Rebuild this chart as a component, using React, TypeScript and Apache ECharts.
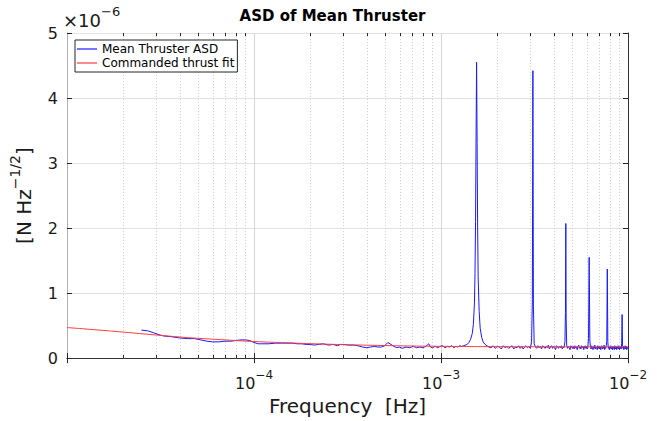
import React, { useEffect, useRef } from 'react';
import * as echarts from 'echarts';

const chartTitle = 'ASD of Mean Thruster';
const seriesNames = ['Mean Thruster ASD', 'Commanded thrust fit'];
const xAxisName = 'Frequency  [Hz]';
const yAxisBase = '[N Hz';
const yAxisExp = '−1/2';
const yScaleExp = '−6';
const xMin = 1e-5;
const xMax = 1e-2;
const yMin = 0;
const yMax = 5;
const yStep = 1;

// [frequency in mHz, ASD in 1e-6 N Hz^-1/2]
const asdPoints: [number, number][] = [
  [0.025, 0.43], [0.027, 0.42], [0.029, 0.39], [0.031, 0.36], [0.033, 0.34], [0.036, 0.33],
  [0.040, 0.31], [0.044, 0.30], [0.048, 0.30], [0.052, 0.28], [0.056, 0.26], [0.060, 0.25],
  [0.065, 0.25], [0.070, 0.26], [0.075, 0.26], [0.080, 0.27], [0.085, 0.28], [0.090, 0.28],
  [0.095, 0.27], [0.100, 0.24], [0.105, 0.22], [0.110, 0.22], [0.120, 0.22], [0.130, 0.23],
  [0.140, 0.23], [0.150, 0.23], [0.160, 0.23], [0.170, 0.22], [0.180, 0.22], [0.190, 0.21],
  [0.200, 0.21], [0.210, 0.20], [0.220, 0.21], [0.235, 0.22], [0.250, 0.20], [0.265, 0.21],
  [0.280, 0.19], [0.290, 0.21], [0.300, 0.21], [0.320, 0.20], [0.340, 0.20], [0.360, 0.19],
  [0.380, 0.17], [0.400, 0.16], [0.420, 0.17], [0.440, 0.18], [0.460, 0.17], [0.480, 0.17],
  [0.500, 0.19], [0.520, 0.24], [0.540, 0.21], [0.560, 0.18], [0.580, 0.16], [0.600, 0.17],
  [0.620, 0.15], [0.650, 0.17], [0.680, 0.16], [0.710, 0.18], [0.740, 0.16], [0.770, 0.17],
  [0.800, 0.16], [0.830, 0.18], [0.860, 0.22], [0.880, 0.17], [0.900, 0.16], [0.930, 0.18],
  [0.960, 0.16], [0.990, 0.18], [1.02, 0.19], [1.05, 0.16], [1.08, 0.18], [1.11, 0.17],
  [1.14, 0.19], [1.17, 0.16], [1.20, 0.18], [1.23, 0.17], [1.26, 0.19], [1.29, 0.18],
  [1.32, 0.19], [1.35, 0.20], [1.38, 0.21], [1.41, 0.24], [1.44, 0.29], [1.47, 0.38],
  [1.49, 0.52], [1.51, 0.85], [1.52, 1.3], [1.53, 2.1], [1.54, 3.4], [1.55, 4.55],
  [1.56, 3.3], [1.57, 2.0], [1.58, 1.25], [1.60, 0.72], [1.62, 0.46], [1.65, 0.32],
  [1.68, 0.25], [1.72, 0.21], [1.76, 0.19], [1.80, 0.17],
  [1.85, 0.16], [1.9, 0.19], [1.95, 0.15], [2.0, 0.18], [2.05, 0.17], [2.1, 0.14],
  [2.15, 0.19], [2.2, 0.16], [2.25, 0.18], [2.3, 0.15], [2.35, 0.17], [2.4, 0.19],
  [2.45, 0.14], [2.5, 0.17], [2.55, 0.16], [2.6, 0.19], [2.65, 0.15], [2.7, 0.18],
  [2.75, 0.14], [2.8, 0.17], [2.85, 0.19], [2.9, 0.16], [2.95, 0.18], [3.0, 0.15],
  [3.05, 0.24], [3.08, 0.9], [3.1, 4.42], [3.12, 0.8], [3.15, 0.22], [3.2, 0.17],
  [3.25, 0.15], [3.3, 0.19], [3.35, 0.16], [3.4, 0.18], [3.45, 0.14], [3.5, 0.19],
  [3.55, 0.17], [3.6, 0.15], [3.65, 0.18], [3.7, 0.16], [3.75, 0.2], [3.8, 0.14],
  [3.85, 0.17], [3.9, 0.19], [3.95, 0.15], [4.0, 0.18], [4.05, 0.16], [4.1, 0.13],
  [4.15, 0.19], [4.2, 0.17], [4.25, 0.15], [4.3, 0.18], [4.35, 0.16], [4.4, 0.19],
  [4.45, 0.14], [4.5, 0.17], [4.55, 0.16], [4.6, 0.25], [4.63, 0.7], [4.65, 2.07],
  [4.67, 0.6], [4.7, 0.2], [4.75, 0.15], [4.8, 0.18], [4.85, 0.16], [4.9, 0.13],
  [4.95, 0.19], [5.0, 0.17], [5.05, 0.15], [5.1, 0.18], [5.15, 0.14], [5.2, 0.19],
  [5.25, 0.16], [5.3, 0.17], [5.35, 0.13], [5.4, 0.18], [5.45, 0.2], [5.5, 0.15],
  [5.55, 0.17], [5.6, 0.14], [5.65, 0.19], [5.7, 0.16], [5.75, 0.18], [5.8, 0.13],
  [5.85, 0.17], [5.9, 0.19], [5.95, 0.15], [6.0, 0.18], [6.05, 0.14], [6.1, 0.17],
  [6.15, 0.3], [6.2, 1.55], [6.25, 0.28], [6.3, 0.16], [6.35, 0.14], [6.4, 0.19],
  [6.45, 0.16], [6.5, 0.13], [6.55, 0.18], [6.6, 0.15], [6.65, 0.2], [6.7, 0.14],
  [6.75, 0.17], [6.8, 0.16], [6.85, 0.13], [6.9, 0.19], [6.95, 0.15], [7.0, 0.18],
  [7.05, 0.14], [7.1, 0.17], [7.15, 0.13], [7.2, 0.19], [7.25, 0.16], [7.3, 0.14],
  [7.35, 0.18], [7.4, 0.15], [7.45, 0.2], [7.5, 0.13], [7.55, 0.17], [7.6, 0.15],
  [7.65, 0.19], [7.7, 0.26], [7.75, 1.37], [7.8, 0.25], [7.85, 0.15], [7.9, 0.18],
  [7.95, 0.13], [8.0, 0.17], [8.05, 0.15], [8.1, 0.19], [8.15, 0.14], [8.2, 0.16],
  [8.25, 0.13], [8.3, 0.18], [8.35, 0.15], [8.4, 0.17], [8.45, 0.13], [8.5, 0.19],
  [8.55, 0.14], [8.6, 0.16], [8.65, 0.18], [8.7, 0.13], [8.75, 0.17], [8.8, 0.15],
  [8.85, 0.19], [8.9, 0.14], [8.95, 0.16], [9.0, 0.13], [9.05, 0.18], [9.1, 0.15],
  [9.15, 0.17], [9.2, 0.14], [9.25, 0.22], [9.3, 0.67], [9.35, 0.2], [9.4, 0.15],
  [9.45, 0.18], [9.5, 0.13], [9.55, 0.17], [9.6, 0.15], [9.65, 0.19], [9.7, 0.14],
  [9.75, 0.16], [9.8, 0.18], [9.85, 0.13], [9.9, 0.17], [9.95, 0.15], [10.0, 0.16],
];

// [frequency in mHz, fit in 1e-6 N Hz^-1/2]
const fitPoints: [number, number][] = [
  [0.01, 0.47], [0.015, 0.43], [0.02, 0.40], [0.03, 0.355], [0.04, 0.325], [0.05, 0.305],
  [0.07, 0.28], [0.1, 0.255], [0.15, 0.235], [0.2, 0.222], [0.3, 0.207], [0.5, 0.193],
  [0.7, 0.186], [1, 0.181], [2, 0.176], [5, 0.174], [10, 0.173],
];

// minor tick positions of the log axis (Hz)
const minorTicks = [
  2e-5, 3e-5, 4e-5, 5e-5, 6e-5, 7e-5, 8e-5, 9e-5,
  2e-4, 3e-4, 4e-4, 5e-4, 6e-4, 7e-4, 8e-4, 9e-4,
  2e-3, 3e-3, 4e-3, 5e-3, 6e-3, 7e-3, 8e-3, 9e-3,
];

const FONT = 'DejaVu Sans';
const TXT = '#1a1a1a';

export default function App() {
  const ref = useRef<HTMLDivElement>(null);
  useEffect(() => {
    if (!ref.current) return;
    const chart = echarts.init(ref.current, null, { renderer: 'svg' });
    const supRich = {
      b: { fontSize: 16, fontFamily: FONT, color: TXT, lineHeight: 22, verticalAlign: 'bottom' },
      sup: { fontSize: 12, fontFamily: FONT, color: TXT, lineHeight: 12, verticalAlign: 'top' },
    };
    const option: any = {
      animation: false,
      backgroundColor: '#fff',
      title: {
        text: chartTitle,
        left: 'center',
        top: 3,
        textStyle: { fontSize: 15, fontWeight: 'bold', fontFamily: FONT, color: '#000' },
      },
      legend: {
        data: seriesNames,
        left: 75,
        top: 40,
        orient: 'vertical',
        icon: 'rect',
        itemWidth: 20,
        itemHeight: 1.2,
        itemGap: 2,
        padding: [3, 3, 3, 2],
        borderColor: '#262626',
        borderWidth: 1,
        backgroundColor: '#fff',
        textStyle: { fontSize: 12, fontFamily: FONT, color: '#000' },
      },
      grid: { left: 62, right: 37, top: 33, bottom: 60, containLabel: false },
      xAxis: [
        {
          type: 'log',
          logBase: 10,
          min: xMin,
          max: xMax,
          position: 'bottom',
          axisLine: { show: true, lineStyle: { color: '#b0b0b0', width: 1 } },
          axisTick: { show: true, inside: true, length: 5, lineStyle: { color: '#262626' } },
          axisLabel: {
            margin: 11,
            formatter: (v: number) => {
              const e = Math.round(Math.log10(v));
              if (e <= -5) return '';
              return `{b|10}{sup|${e < 0 ? '−' + Math.abs(e) : e}}`;
            },
            rich: supRich,
          },
          splitLine: { show: true, lineStyle: { color: '#d6d6d6', width: 1 } },
          name: xAxisName,
          nameLocation: 'middle',
          nameGap: 35,
          nameTextStyle: { fontSize: 20, fontFamily: FONT, color: TXT },
        },
        {
          type: 'log',
          logBase: 10,
          min: xMin,
          max: xMax,
          position: 'top',
          axisLine: { show: true, lineStyle: { color: '#333', width: 1 } },
          axisTick: { show: true, inside: true, length: 5, lineStyle: { color: '#262626' } },
          axisLabel: { show: false },
          splitLine: { show: false },
        },
      ],
      yAxis: [
        {
          type: 'value',
          min: yMin,
          max: yMax,
          interval: yStep,
          position: 'left',
          axisLine: { show: true, lineStyle: { color: '#b0b0b0', width: 1 } },
          axisTick: { show: true, inside: true, length: 5, lineStyle: { color: '#262626' } },
          axisLabel: { fontSize: 16, fontFamily: FONT, color: TXT, margin: 9 },
          splitLine: { show: true, lineStyle: { color: '#e2e2e2', width: 1 } },
          name: `{b|${yAxisBase}}{sup|${yAxisExp}}{b|]}`,
          nameLocation: 'middle',
          nameGap: 33,
          nameRotate: 90,
          nameTextStyle: {
            rich: {
              b: { fontSize: 20, fontFamily: FONT, color: TXT, lineHeight: 26, verticalAlign: 'bottom' },
              sup: { fontSize: 14, fontFamily: FONT, color: TXT, lineHeight: 14, verticalAlign: 'top' },
            },
          },
        },
        {
          type: 'value',
          min: yMin,
          max: yMax,
          interval: yStep,
          position: 'right',
          axisLine: { show: true, lineStyle: { color: '#333', width: 1 } },
          axisTick: { show: true, inside: true, length: 5, lineStyle: { color: '#262626' } },
          axisLabel: { show: false },
          splitLine: { show: false },
        },
      ],
      graphic: [
        {
          type: 'text',
          left: 63,
          top: 5,
          style: {
            text: `{b|×10}{sup|${yScaleExp}}`,
            rich: {
              b: { fontSize: 18, fontFamily: FONT, fill: TXT, lineHeight: 24, verticalAlign: 'bottom' },
              sup: { fontSize: 13, fontFamily: FONT, fill: TXT, lineHeight: 13, verticalAlign: 'top' },
            },
          },
        },
      ],
      series: [
        {
          type: 'custom',
          name: 'minorGrid',
          xAxisIndex: 0,
          yAxisIndex: 0,
          silent: true,
          z: 1,
          data: minorTicks.map((v) => [v, yMin]),
          renderItem: (_p: any, api: any) => {
            const v = api.value(0);
            const b = api.coord([v, yMin]);
            const t = api.coord([v, yMax]);
            const x = Math.round(b[0]) + 0.5;
            return {
              type: 'group',
              children: [
                { type: 'line', shape: { x1: x, y1: b[1], x2: x, y2: t[1] }, style: { stroke: '#cfcfcf', lineWidth: 1, lineDash: [1, 2] } },
                { type: 'line', shape: { x1: x, y1: b[1], x2: x, y2: b[1] - 3 }, style: { stroke: '#262626', lineWidth: 1 } },
                { type: 'line', shape: { x1: x, y1: t[1], x2: x, y2: t[1] + 3 }, style: { stroke: '#262626', lineWidth: 1 } },
              ],
            };
          },
        },
        {
          type: 'line',
          name: seriesNames[0],
          xAxisIndex: 0,
          yAxisIndex: 0,
          data: asdPoints.map(([f, v]) => [f * 1e-3, v]),
          showSymbol: false,
          symbol: 'none',
          color: '#1a1aff',
          lineStyle: { color: '#1a1aff', width: 1 },
          z: 3,
        },
        {
          type: 'line',
          name: seriesNames[1],
          xAxisIndex: 0,
          yAxisIndex: 0,
          data: fitPoints.map(([f, v]) => [f * 1e-3, v]),
          showSymbol: false,
          symbol: 'none',
          smooth: true,
          color: '#ff3b3b',
          lineStyle: { color: '#ff3b3b', width: 1 },
          z: 4,
        },
      ],
    };
    chart.setOption(option);
    return () => chart.dispose();
  }, []);
  return (
    <div
      ref={ref}
      style={{ position: 'fixed', left: 0, top: 0, width: 665, height: 421, background: '#fff' }}
    />
  );
}
